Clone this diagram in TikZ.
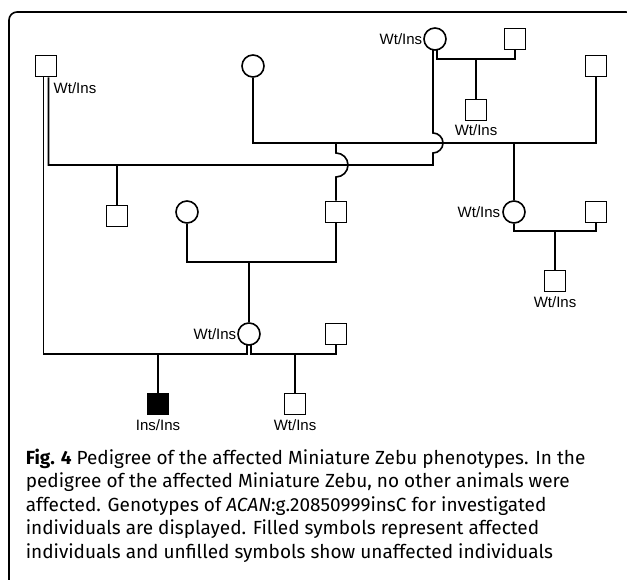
\documentclass[tikz,border=0pt]{standalone}
\usepackage{fontspec}
\setmainfont{Fira Sans}
\newfontfamily\labfont{Liberation Sans}
\begin{document}
\begin{tikzpicture}[x=1pt,y=-1pt,
  line width=1.6pt,
  male/.style={draw,rectangle,minimum size=21pt,inner sep=0pt,fill=white},
  female/.style={draw,circle,minimum size=22pt,inner sep=0pt,fill=white},
  affm/.style={male,fill=black},
  geno/.style={font=\labfont\fontsize{15}{15}\selectfont,inner sep=0pt},
  captext/.style={anchor=base west,inner sep=0pt,font=\fontsize{19}{19}\selectfont}]
\useasboundingbox (0,0) rectangle (627,580);
\clip (0,0) rectangle (627,580);
% frame
\draw[rounded corners=8pt] (9,585) -- (9,12) -- (634,12) -- (634,585);
% individuals
\node[male] (A) at (46,66) {};
\node[female] (B) at (253,66) {};
\node[female] (H) at (435,39) {};
\node[male] (I) at (515,39) {};
\node[male] (J) at (476,110) {};
\node[male] (F) at (596,66) {};
\node[male] (C) at (117,216) {};
\node[female] (D) at (187,212) {};
\node[male] (E) at (336,212) {};
\node[female] (G) at (514,212) {};
\node[male] (K) at (596,212) {};
\node[male] (L) at (555,281) {};
\node[female] (M) at (249,334) {};
\node[male] (N) at (336,334) {};
\node[affm] (O) at (158,404) {};
\node[male] (P) at (295,404) {};
% genotype labels
\node[geno] (lA) at (75,88) {Wt/Ins};
\node[geno,anchor=east] (lH) at (423,39) {Wt/Ins};
\node[geno] (lJ) at (476,130) {Wt/Ins};
\node[geno,anchor=east] (lG) at (501,212) {Wt/Ins};
\node[geno] (lL) at (555,302) {Wt/Ins};
\node[geno,anchor=east] (lM) at (237,334) {Wt/Ins};
\node[geno] (lO) at (158,425) {Ins/Ins};
\node[geno] (lP) at (295,425) {Wt/Ins};
% couple B x F and children E, G
\draw (B.south) -- (253,143) -- (596,143) -- (F.south);
\draw (514,143) -- (G.north);
\draw (E.north) -- (336,177) .. controls (342.6,177) and (348,171.6) .. (348,165)
      .. controls (348,158.4) and (342.6,153) .. (336,153) -- (336,143);
% couple A x H and child C
\draw ([xshift=2.5pt]A.south) -- (48.5,165) -- (433,165) -- (433,153)
      .. controls (438.5,153) and (443,148.5) .. (443,143)
      .. controls (443,137.5) and (438.5,133) .. (433,133) -- (433,49.8);
\draw (117,165) -- (C.north);
% couple H x I and child J
\draw (437,49.8) -- (437,59) -- (515,59) -- (I.south);
\draw (476,59) -- (J.north);
% couple D x E and child M
\draw (D.south) -- (187,262) -- (336,262) -- (E.south);
\draw (249,262) -- (M.north);
% couple G x K and child L
\draw (G.south) -- (514,231) -- (596,231) -- (K.south);
\draw (555,231) -- (L.north);
% couple A x M and child O
\draw ([xshift=-2.5pt]A.south) -- (43.5,354) -- (247,354) -- (247,344.8);
\draw (158,354) -- (O.north);
% couple M x N and child P
\draw (251,344.8) -- (251,354) -- (336,354) -- (N.south);
\draw (295,354) -- (P.north);
% caption
\node[captext] (c1) at (25,464) {\textbf{Fig. 4} Pedigree of the affected Miniature Zebu phenotypes. In the};
\node[captext] (c2) at (25,487.5) {pedigree of the affected Miniature Zebu, no other animals were};
\node[captext] (c3) at (25,511) {affected. Genotypes of \textit{ACAN}:g.20850999insC for investigated};
\node[captext] (c4) at (25,534.5) {individuals are displayed. Filled symbols represent affected};
\node[captext] (c5) at (25,558) {individuals and unfilled symbols show unaffected individuals};
\end{tikzpicture}
\end{document}
